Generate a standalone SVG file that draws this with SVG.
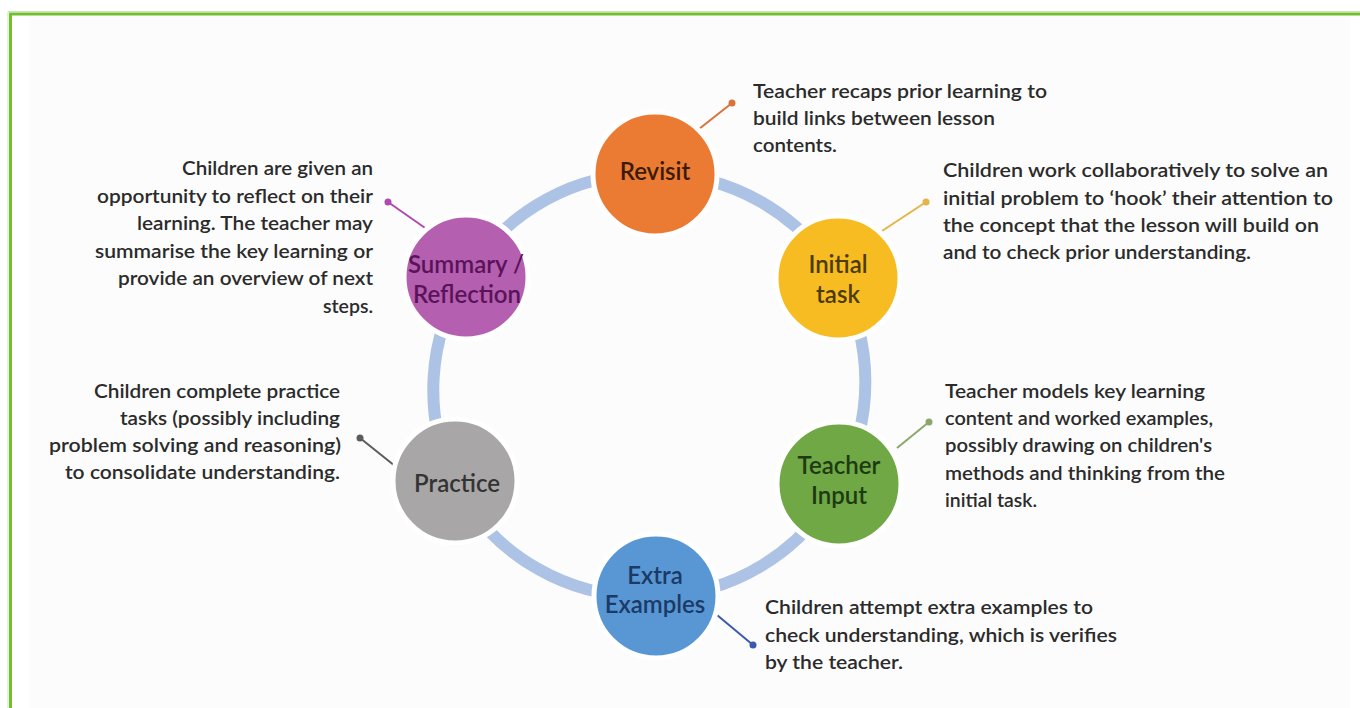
<svg xmlns="http://www.w3.org/2000/svg" width="1360" height="708" viewBox="0 0 1360 708">
  <style>
    .desc { font-family: Lato, "Liberation Sans", sans-serif; font-size: 19px; font-weight: 600; fill: #2b2b2b; }
    .lbl { font-family: Lato, "Liberation Sans", sans-serif; font-size: 24px; font-weight: 600; text-anchor: middle; }
    .node { stroke: #ffffff; stroke-width: 5; }
    .ring { fill: none; stroke: #adc3e5; stroke-width: 12; }
    .lead { stroke-width: 2; fill: none; }
  </style>

  <!-- page background and green frame -->
  <rect x="0" y="0" width="1360" height="708" fill="#ffffff"/>
  <rect x="29" y="16" width="1321" height="692" fill="#fcfcfc"/>
  <path d="M10.5,708 V14 H1360" fill="none" stroke="#72bf2f" stroke-width="3"/>
  <path d="M8,708 V11.5 H1360" fill="none" stroke="#c9e6b0" stroke-width="1"/>

  <!-- cycle ring and leader lines -->
  <g id="connectors">
    <path class="ring" d="M655,174 A211,211 0 0 1 838,278 A211,211 0 0 1 839,484 A211,211 0 0 1 656,596 A211,211 0 0 1 454,481 A211,211 0 0 1 466,277 A211,211 0 0 1 655,174"/>

    <line class="lead" x1="699" y1="129" x2="732" y2="103" stroke="#d9733a"/>
    <circle cx="732" cy="103" r="3.5" fill="#d9733a"/>

    <line class="lead" x1="882" y1="231" x2="926" y2="202" stroke="#e5b446"/>
    <circle cx="926" cy="202" r="3.5" fill="#e5b446"/>

    <line class="lead" x1="897" y1="448" x2="929" y2="422" stroke="#8aa86c"/>
    <circle cx="929" cy="422" r="3.5" fill="#8aa86c"/>

    <line class="lead" x1="717" y1="615" x2="753" y2="645" stroke="#3d5aa8"/>
    <circle cx="753" cy="645" r="3.5" fill="#3d5aa8"/>

    <line class="lead" x1="400" y1="470" x2="360" y2="438" stroke="#5c5c5c"/>
    <circle cx="360" cy="438" r="3.5" fill="#5c5c5c"/>

    <line class="lead" x1="428" y1="230" x2="388" y2="202" stroke="#b04aae"/>
    <circle cx="388" cy="202" r="3.5" fill="#b04aae"/>
  </g>

  <!-- stages -->
  <g id="revisit">
    <circle class="node" cx="655" cy="174" r="62" fill="#eb7a32"/>
    <text class="lbl" x="655" y="180" fill="#3b1a08">Revisit</text>
    <text class="desc" x="753" y="98" textLength="294" lengthAdjust="spacingAndGlyphs">Teacher recaps prior learning to</text>
    <text class="desc" x="753" y="125" textLength="242" lengthAdjust="spacingAndGlyphs">build links between lesson</text>
    <text class="desc" x="753" y="152" textLength="84" lengthAdjust="spacingAndGlyphs">contents.</text>
  </g>

  <g id="initial-task">
    <circle class="node" cx="838" cy="278" r="62" fill="#f6bc22"/>
    <text class="lbl" x="838" y="273" fill="#4c3b05">Initial</text>
    <text class="lbl" x="838" y="303" fill="#4c3b05">task</text>
    <text class="desc" x="943" y="177" textLength="385" lengthAdjust="spacingAndGlyphs">Children work collaboratively to solve an</text>
    <text class="desc" x="943" y="205" textLength="390" lengthAdjust="spacingAndGlyphs">initial problem to ‘hook’ their attention to</text>
    <text class="desc" x="943" y="232" textLength="376" lengthAdjust="spacingAndGlyphs">the concept that the lesson will build on</text>
    <text class="desc" x="943" y="259" textLength="308" lengthAdjust="spacingAndGlyphs">and to check prior understanding.</text>
  </g>

  <g id="teacher-input">
    <circle class="node" cx="839" cy="484" r="62" fill="#6fa845"/>
    <text class="lbl" x="839" y="474" fill="#1d3a12">Teacher</text>
    <text class="lbl" x="839" y="504" fill="#1d3a12">Input</text>
    <text class="desc" x="945" y="398" textLength="260" lengthAdjust="spacingAndGlyphs">Teacher models key learning</text>
    <text class="desc" x="945" y="425" textLength="268" lengthAdjust="spacingAndGlyphs">content and worked examples,</text>
    <text class="desc" x="945" y="452" textLength="267" lengthAdjust="spacingAndGlyphs">possibly drawing on children's</text>
    <text class="desc" x="945" y="480" textLength="280" lengthAdjust="spacingAndGlyphs">methods and thinking from the</text>
    <text class="desc" x="945" y="507" textLength="92" lengthAdjust="spacingAndGlyphs">initial task.</text>
  </g>

  <g id="extra-examples">
    <circle class="node" cx="656" cy="596" r="62" fill="#5897d4"/>
    <text class="lbl" x="655" y="584" fill="#1b3a66">Extra</text>
    <text class="lbl" x="655" y="613" fill="#1b3a66">Examples</text>
    <text class="desc" x="765" y="614" textLength="328" lengthAdjust="spacingAndGlyphs">Children attempt extra examples to</text>
    <text class="desc" x="765" y="642" textLength="352" lengthAdjust="spacingAndGlyphs">check understanding, which is verifies</text>
    <text class="desc" x="765" y="669" textLength="138" lengthAdjust="spacingAndGlyphs">by the teacher.</text>
  </g>

  <g id="practice">
    <circle class="node" cx="455" cy="481" r="62" fill="#a8a6a6"/>
    <text class="lbl" x="457" y="492" fill="#333333">Practice</text>
    <g text-anchor="end">
      <text class="desc" x="340" y="398" textLength="246" lengthAdjust="spacingAndGlyphs">Children complete practice</text>
      <text class="desc" x="340" y="425" textLength="220" lengthAdjust="spacingAndGlyphs">tasks (possibly including</text>
      <text class="desc" x="341" y="452" textLength="292" lengthAdjust="spacingAndGlyphs">problem solving and reasoning)</text>
      <text class="desc" x="340" y="479" textLength="275" lengthAdjust="spacingAndGlyphs">to consolidate understanding.</text>
    </g>
  </g>

  <g id="summary-reflection">
    <circle class="node" cx="466" cy="277" r="62" fill="#b45faf"/>
    <text class="lbl" x="466" y="273" fill="#5a1359">Summary /</text>
    <text class="lbl" x="467" y="303" fill="#5a1359">Reflection</text>
    <g text-anchor="end">
      <text class="desc" x="373" y="175" textLength="191" lengthAdjust="spacingAndGlyphs">Children are given an</text>
      <text class="desc" x="373" y="203" textLength="276" lengthAdjust="spacingAndGlyphs">opportunity to reflect on their</text>
      <text class="desc" x="373" y="230" textLength="236" lengthAdjust="spacingAndGlyphs">learning. The teacher may</text>
      <text class="desc" x="373" y="258" textLength="278" lengthAdjust="spacingAndGlyphs">summarise the key learning or</text>
      <text class="desc" x="373" y="285" textLength="255" lengthAdjust="spacingAndGlyphs">provide an overview of next</text>
      <text class="desc" x="373" y="313" textLength="50" lengthAdjust="spacingAndGlyphs">steps.</text>
    </g>
  </g>
</svg>
